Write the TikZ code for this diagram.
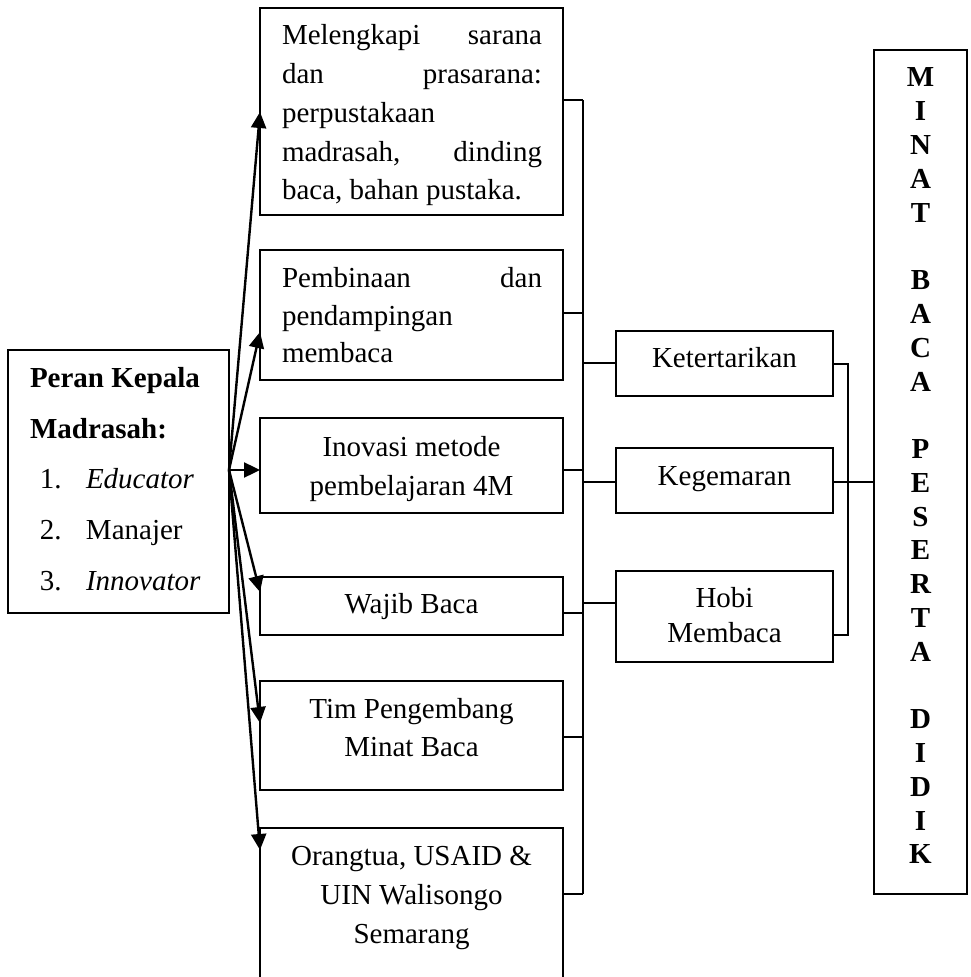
\documentclass[tikz,border=0pt]{standalone}
\usepackage{fontspec}
\setmainfont{Liberation Serif}
\usetikzlibrary{arrows.meta}
\tikzset{
  boxr/.style={draw, line width=1pt, rectangle, inner sep=0pt, outer sep=0pt, anchor=north west},
  txt/.style={inner sep=0pt, outer sep=0pt},
  conn/.style={line width=1pt},
  arr/.style={line width=1.2pt, -{Triangle[length=8pt,width=7.5pt]}},
}
\newcommand\mkbox[5]{\node[boxr, minimum width=#4*0.5pt, minimum height=#5*0.5pt] (#1) at (#2,#3) {};}
\newcommand\ctext[2]{\fontsize{14.5pt}{#1}\selectfont\begin{tabular}[t]{@{}c@{}}#2\end{tabular}}
\begin{document}
\begin{tikzpicture}[x=0.5pt,y=-0.5pt]
\useasboundingbox (0,0) rectangle (970,977);
\clip (0,0) rectangle (970,977);
\fill[white] (0,0) rectangle (970,977);

% boxes
\mkbox{L}{8}{350}{221}{263}
\mkbox{b1}{260}{8}{303}{207}
\mkbox{b2}{260}{250}{303}{130}
\mkbox{b3}{260}{418}{303}{95}
\mkbox{b4}{260}{577}{303}{58}
\mkbox{b5}{260}{681}{303}{109}
\mkbox{b6}{260}{828}{303}{170}
\mkbox{k1}{616}{331}{217}{65}
\mkbox{k2}{616}{448}{217}{65}
\mkbox{k3}{616}{571}{217}{91}
\mkbox{m}{874}{50}{93}{844}

% texts
\node[txt, anchor=base west] (tL) at (30,388) {\fontsize{14.5pt}{25.25pt}\selectfont
  \begin{tabular}[t]{@{}l@{}}
  \textbf{Peran Kepala}\\
  \textbf{Madrasah:}\\
  \hspace{5pt}\makebox[23pt][l]{1.}\textit{Educator}\\
  \hspace{5pt}\makebox[23pt][l]{2.}Manajer\\
  \hspace{5pt}\makebox[23pt][l]{3.}\textit{Innovator}
  \end{tabular}};

\node[txt, anchor=base west] (t1) at (282,45) {\parbox[t]{130pt}{\fontsize{14.5pt}{19.375pt}\selectfont
  \hbox to 130pt{Melengkapi\hfill sarana}
  \hbox to 130pt{dan\hfill prasarana:}
  \hbox{perpustakaan}
  \hbox to 130pt{madrasah,\hfill dinding}
  \hbox{baca, bahan pustaka.}}};

\node[txt, anchor=base west] (t2) at (282,288) {\parbox[t]{130pt}{\fontsize{14.5pt}{18.75pt}\selectfont
  \hbox to 130pt{Pembinaan\hfill dan}
  \hbox{pendampingan}
  \hbox{membaca}}};

\node[txt, anchor=base] (t3) at (411.5,456) {\ctext{19.5pt}{Inovasi metode\\ pembelajaran 4M}};
\node[txt, anchor=base] (t4) at (411.5,613) {\ctext{19.5pt}{Wajib Baca}};
\node[txt, anchor=base] (t5) at (411.5,718) {\ctext{19pt}{Tim Pengembang\\ Minat Baca}};
\node[txt, anchor=base] (t6) at (411.5,865) {\ctext{19.5pt}{Orangtua, USAID \&\\ UIN Walisongo\\ Semarang}};

\node[txt, anchor=base] (tk1) at (724.5,368) {\ctext{17.5pt}{Ketertarikan}};
\node[txt, anchor=base] (tk2) at (724.5,485) {\ctext{17.5pt}{Kegemaran}};
\node[txt, anchor=base] (tk3) at (724.5,607) {\ctext{17.5pt}{Hobi\\ Membaca}};

\node[txt, anchor=base] (tm) at (920.5,87) {\fontsize{14.5pt}{16.89pt}\selectfont\bfseries
  \begin{tabular}[t]{@{}c@{}}
  M\\ I\\ N\\ A\\ T\\ \\ B\\ A\\ C\\ A\\ \\ P\\ E\\ S\\ E\\ R\\ T\\ A\\ \\ D\\ I\\ D\\ I\\ K
  \end{tabular}};

% spine coordinates
\coordinate (s1) at (583,100);
\coordinate (s2) at (583,313);
\coordinate (s3) at (583,470);
\coordinate (s4) at (583,613);
\coordinate (s5) at (583,737);
\coordinate (s6) at (583,894);
\coordinate (sk1) at (583,363);
\coordinate (sk2) at (583,482);
\coordinate (sk3) at (583,603);
\coordinate (r1) at (848,364);
\coordinate (r2) at (848,482);
\coordinate (r3) at (848,635);

\draw[conn] (s1) -- (s6);
\draw[conn] (b1.east |- s1) -- (s1);
\draw[conn] (b2.east |- s2) -- (s2);
\draw[conn] (b3.east |- s3) -- (s3);
\draw[conn] (b4.east |- s4) -- (s4);
\draw[conn] (b5.east |- s5) -- (s5);
\draw[conn] (b6.east |- s6) -- (s6);
\draw[conn] (sk1) -- (k1.west |- sk1);
\draw[conn] (sk2) -- (k2.west |- sk2);
\draw[conn] (sk3) -- (k3.west |- sk3);
\draw[conn] (k1.east |- r1) -- (r1) -- (r3) -- (k3.east |- r3);
\draw[conn] (k2.east |- r2) -- (m.west |- r2);

% arrows
\coordinate (src) at (229,470);
\draw[arr] (src) -- (b1.west |- 0,112);
\draw[arr] (src) -- (b2.west |- 0,332);
\draw[arr] (src) -- (b3.west |- 0,470);
\draw[arr] (src) -- (b4.west |- 0,592);
\draw[arr] (src) -- (b5.west |- 0,723);
\draw[arr] (src) -- (b6.west |- 0,850);
\end{tikzpicture}
\end{document}
